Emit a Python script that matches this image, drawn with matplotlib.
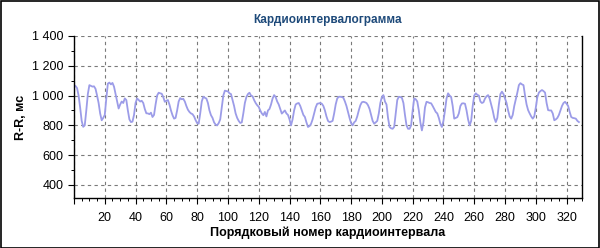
import matplotlib
matplotlib.use('Agg')
import matplotlib.pyplot as plt
from matplotlib.ticker import MultipleLocator, FuncFormatter
from matplotlib.patches import Rectangle

# R-R intervals, ms, index starts at 1
rr = [1064, 1050, 1000, 920, 830, 790, 800, 900, 1010, 1070,
      1065, 1060, 1062, 1045, 1000, 950, 880, 834, 850, 870,
      980, 1080, 1087, 1075, 1085, 1060, 1010, 960, 913, 940,
      960, 950, 981, 970, 900, 840, 822, 825, 870, 950,
      981, 970, 960, 965, 950, 910, 881, 880, 875, 885,
      856, 870, 940, 1000, 1019, 1015, 1012, 990, 958, 965,
      970, 940, 900, 868, 845, 850, 900, 960, 983, 975,
      978, 960, 930, 905, 890, 880, 875, 860, 835, 815,
      811, 880, 960, 992, 985, 980, 950, 900, 868, 850,
      820, 805, 800, 815, 840, 920, 1000, 1033, 1030, 1028,
      1015, 1010, 970, 930, 880, 850, 830, 816, 820, 880,
      950, 990, 1010, 1019, 1000, 995, 970, 950, 935, 924,
      900, 880, 868, 890, 860, 900, 910, 940, 980, 1003,
      990, 960, 940, 910, 879, 890, 900, 880, 870, 840,
      800, 840, 900, 940, 947, 950, 930, 900, 870, 856,
      820, 789, 795, 810, 840, 880, 920, 945, 947, 950,
      945, 930, 900, 860, 830, 822, 825, 830, 880, 940,
      980, 992, 992, 990, 985, 960, 930, 890, 850, 815,
      800, 820, 830, 860, 900, 935, 955, 958, 955, 950,
      935, 910, 870, 830, 811, 820, 830, 880, 950, 990,
      1003, 960, 940, 850, 789, 780, 777, 790, 880, 970,
      992, 990, 985, 950, 870, 800, 777, 777, 800, 900,
      981, 975, 960, 900, 820, 766, 820, 920, 958, 955,
      950, 948, 930, 910, 890, 880, 850, 810, 789, 830,
      900, 980, 1015, 1000, 990, 930, 845, 850, 855, 880,
      930, 947, 948, 945, 900, 840, 800, 830, 930, 1000,
      1015, 1005, 1000, 960, 950, 955, 980, 995, 1003, 980,
      940, 900, 850, 822, 850, 940, 1010, 1026, 1010, 980,
      950, 900, 860, 845, 870, 930, 975, 1020, 1070, 1083,
      1075, 1070, 1000, 940, 902, 880, 860, 845, 860, 920,
      990, 1020, 1030, 1037, 1030, 1020, 950, 902, 900, 900,
      880, 834, 840, 850, 870, 900, 930, 950, 958, 945,
      930, 890, 856, 850, 848, 845, 830, 822]
idx = list(range(1, len(rr) + 1))

title = 'Кардиоинтервалограмма'
xlab = 'Порядковый номер кардиоинтервала'
ylab = 'R-R, мс'

plt.rcParams['font.family'] = ['Liberation Sans', 'DejaVu Sans']

fig = plt.figure(figsize=(6, 2.48), dpi=100)
ax = fig.add_axes([0.1233, 0.202, 0.8467, 0.653])

ax.plot(idx, rr, color='#9c9ce8', lw=1.3)

ax.set_xlim(0, 330)
ax.set_ylim(313, 1400)
ax.xaxis.set_major_locator(MultipleLocator(20))
ax.xaxis.set_minor_locator(MultipleLocator(5))
ax.yaxis.set_major_locator(MultipleLocator(200))
ax.yaxis.set_minor_locator(MultipleLocator(100))
ax.xaxis.set_major_formatter(FuncFormatter(lambda v, p: '' if v == 0 else f'{int(v)}'))
ax.yaxis.set_major_formatter(FuncFormatter(lambda v, p: f'{int(v):,}'.replace(',', ' ')))

ax.grid(True, which='major', color='#7a7a7a', ls=(0, (3, 3)), lw=0.8)
ax.tick_params(which='major', direction='out', length=4, width=0.8, labelsize=9, colors='black')
ax.tick_params(which='minor', direction='out', length=2, width=0.7)
ax.tick_params(axis='x', pad=6)

ax.spines['top'].set_visible(False)
for s in ['left', 'bottom', 'right']:
    ax.spines[s].set_color('black')
    ax.spines[s].set_linewidth(1)

ax.set_title(title, fontsize=8.5, fontweight='bold', color='#1e4a7a', pad=9)
ax.set_xlabel(xlab, fontsize=9, fontweight='bold', labelpad=2)
ax.set_ylabel(ylab, fontsize=9, fontweight='bold', labelpad=4)

fig.patches.append(Rectangle((0.001, 0.002), 0.997, 0.995, transform=fig.transFigure,
                             fill=False, edgecolor='black', lw=1.2))

fig.savefig('out.png', dpi=100)
